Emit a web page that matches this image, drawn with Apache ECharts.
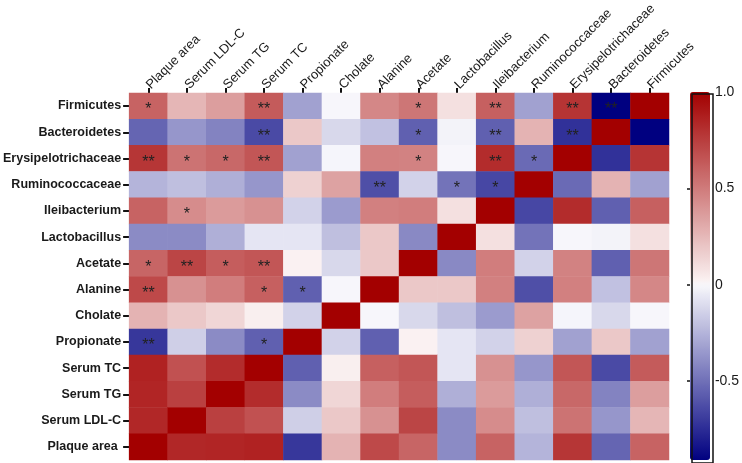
<!DOCTYPE html>
<html>
<head>
<meta charset="utf-8">
<script src="https://cdn.jsdelivr.net/npm/echarts@6/dist/echarts.min.js"></script>
<style>
html,body{margin:0;padding:0;background:#fff;}
#chart{width:742px;height:463px;}
</style>
</head>
<body>
<div id="chart"></div>
<script>
// Column variables (left to right)
const columns = ['Plaque area','Serum LDL-C','Serum TG','Serum TC','Propionate','Cholate','Alanine','Acetate','Lactobacillus','Ileibacterium','Ruminococcaceae','Erysipelotrichaceae','Bacteroidetes','Firmicutes'];
// Row variables (top to bottom)
const rows = ['Firmicutes','Bacteroidetes','Erysipelotrichaceae','Ruminococcaceae','Ileibacterium','Lactobacillus','Acetate','Alanine','Cholate','Propionate','Serum TC','Serum TG','Serum LDL-C','Plaque area '];

// Correlation values, one array per row (in column order)
const rFirmicutes          = [0.60, 0.26, 0.36, 0.63, -0.32, 0.00, 0.45, 0.52, 0.09, 0.61, -0.32, 0.79, -0.91, 1.00];
const rBacteroidetes       = [-0.54, -0.36, -0.43, -0.64, 0.19, -0.12, -0.20, -0.56, -0.02, -0.56, 0.27, -0.73, 1.00, -0.91];
const rErysipelotrichaceae = [0.78, 0.53, 0.58, 0.65, -0.32, -0.01, 0.48, 0.47, 0.00, 0.82, -0.52, 1.00, -0.73, 0.79];
const rRuminococcaceae     = [-0.25, -0.21, -0.27, -0.36, 0.15, 0.34, -0.62, -0.14, -0.49, -0.65, 1.00, -0.52, 0.27, -0.32];
const rIleibacterium       = [0.60, 0.43, 0.37, 0.41, -0.14, -0.34, 0.48, 0.49, 0.09, 1.00, -0.65, 0.82, -0.56, 0.61];
const rLactobacillus       = [-0.40, -0.40, -0.27, -0.07, -0.07, -0.21, 0.19, -0.41, 1.00, 0.09, -0.49, 0.00, -0.02, 0.09];
const rAcetate             = [0.59, 0.72, 0.62, 0.65, 0.02, -0.12, 0.19, 1.00, -0.41, 0.49, -0.14, 0.47, -0.56, 0.52];
const rAlanine             = [0.70, 0.41, 0.49, 0.61, -0.56, 0.00, 1.00, 0.19, 0.19, 0.48, -0.62, 0.48, -0.20, 0.45];
const rCholate             = [0.27, 0.19, 0.13, 0.03, -0.14, 1.00, 0.00, -0.12, -0.21, -0.34, 0.34, -0.01, -0.12, 0.00];
const rPropionate          = [-0.71, -0.15, -0.40, -0.56, 1.00, -0.14, -0.56, 0.02, -0.07, -0.14, 0.15, -0.32, 0.19, -0.32];
const rSerumTC             = [0.86, 0.67, 0.82, 1.00, -0.56, 0.03, 0.61, 0.65, -0.07, 0.41, -0.36, 0.65, -0.64, 0.63];
const rSerumTG             = [0.85, 0.74, 1.00, 0.82, -0.40, 0.13, 0.49, 0.62, -0.27, 0.37, -0.27, 0.58, -0.43, 0.36];
const rSerumLDLC           = [0.84, 1.00, 0.74, 0.67, -0.15, 0.19, 0.41, 0.72, -0.40, 0.43, -0.21, 0.53, -0.36, 0.26];
const rPlaqueArea          = [1.00, 0.84, 0.85, 0.86, -0.71, 0.27, 0.70, 0.59, -0.40, 0.60, -0.25, 0.78, -0.54, 0.60];

// Significance marks per row (in column order)
const sFirmicutes          = ['*','','','**','','','','*','','**','','**','**',''];
const sBacteroidetes       = ['','','','**','','','','*','','**','','**','',''];
const sErysipelotrichaceae = ['**','*','*','**','','','','*','','**','*','','',''];
const sRuminococcaceae     = ['','','','','','','**','','*','*','','','',''];
const sIleibacterium       = ['','*','','','','','','','','','','','',''];
const sLactobacillus       = ['','','','','','','','','','','','','',''];
const sAcetate             = ['*','**','*','**','','','','','','','','','',''];
const sAlanine             = ['**','','','*','*','','','','','','','','',''];
const sCholate             = ['','','','','','','','','','','','','',''];
const sPropionate          = ['**','','','*','','','','','','','','','',''];

// Colour bar range and ticks
const barMin = -0.91, barMax = 1.0;
const barTicks = [1.0, 0.5, 0, -0.5];

const matrix = [rFirmicutes, rBacteroidetes, rErysipelotrichaceae, rRuminococcaceae, rIleibacterium, rLactobacillus, rAcetate, rAlanine, rCholate, rPropionate, rSerumTC, rSerumTG, rSerumLDLC, rPlaqueArea];
const sigs = [sFirmicutes, sBacteroidetes, sErysipelotrichaceae, sRuminococcaceae, sIleibacterium, sLactobacillus, sAcetate, sAlanine, sCholate, sPropionate];

const data = [];
matrix.forEach((row, ri) => {
  row.forEach((v, ci) => {
    const mark = (sigs[ri] && sigs[ri][ci]) || '';
    data.push([ci, ri, v, mark]);
  });
});

// colour map: navy -> white -> dark red, white at 0
const NEG = [0, 0, 128], MIDN = [248, 248, 252], MIDP = [252, 246, 246], POS = [163, 0, 0];
function mix(a, b, t) { return a.map((x, i) => Math.round(x + (b[i] - x) * t)); }
function colorAt(v) {
  const c = v >= 0 ? mix(MIDP, POS, v / barMax) : mix(MIDN, NEG, v / barMin);
  return 'rgb(' + c.join(',') + ')';
}
const stops = [];
const N = 80;
for (let i = 0; i <= N; i++) stops.push(colorAt(barMin + (barMax - barMin) * i / N));

const chart = echarts.init(document.getElementById('chart'), null, {renderer: 'canvas'});
chart.setOption({
  animation: false,
  backgroundColor: '#fff',
  grid: [
    {left: 124, top: 91, width: 545, height: 369},
    {left: 690, top: 92, width: 20, height: 368}
  ],
  xAxis: [
    {
      type: 'category', data: columns, position: 'top', gridIndex: 0,
      axisLine: {show: false},
      axisTick: {show: true, alignWithLabel: true, length: 5, lineStyle: {color: '#111', width: 2}},
      axisLabel: {rotate: -45, margin: 6, color: '#1a1a1a', fontSize: 13, fontFamily: 'Liberation Sans, Arial, sans-serif'},
      splitLine: {show: false}
    },
    {type: 'value', gridIndex: 1, show: false, min: 0, max: 1}
  ],
  yAxis: [
    {
      type: 'category', data: rows, inverse: true, gridIndex: 0,
      axisLine: {show: false},
      axisTick: {show: true, alignWithLabel: true, length: 6, lineStyle: {color: '#111', width: 2}},
      axisLabel: {margin: 8, color: '#1a1a1a', fontSize: 12.5, fontWeight: 'bold', fontFamily: 'Liberation Sans, Arial, sans-serif'},
      splitLine: {show: false}
    },
    {
      type: 'value', gridIndex: 1, min: barMin, max: barMax, position: 'right',
      axisLine: {show: false},
      splitLine: {show: false},
      axisTick: {show: true, inside: true, length: 3, customValues: [0.5, 0, -0.5], lineStyle: {color: '#111', width: 1.5}},
      axisLabel: {
        customValues: barTicks, margin: 7, color: '#1a1a1a', fontSize: 14,
        fontFamily: 'Liberation Sans, Arial, sans-serif',
        formatter: v => (Math.abs(v - 1) < 1e-6 ? '1.0' : (Math.abs(v) < 1e-6 ? '0' : v.toFixed(1)))
      }
    },
    {
      type: 'value', gridIndex: 1, min: barMin, max: barMax, position: 'left',
      axisLine: {show: false},
      splitLine: {show: false},
      axisTick: {show: true, inside: true, length: 3, customValues: [0.5, 0, -0.5], lineStyle: {color: '#111', width: 1.5}},
      axisLabel: {show: false}
    }
  ],
  visualMap: {
    type: 'continuous', seriesIndex: 0, dimension: 2, min: barMin, max: barMax,
    orient: 'vertical', left: 690, top: 92, itemWidth: 20, itemHeight: 368,
    padding: 0, calculable: false, hoverLink: false, realtime: false,
    inRange: {color: stops}, text: null, z: 1
  },
  graphic: [
    {type: 'rect', left: 689.5, top: 91.5, z: 100, silent: true,
     shape: {width: 21, height: 369}, style: {fill: 'none', stroke: '#111', lineWidth: 1.5}}
  ],
  series: [{
    type: 'heatmap', xAxisIndex: 0, yAxisIndex: 0,
    data: data,
    itemStyle: {borderWidth: 0},
    label: {
      show: true,
      formatter: p => p.data[3],
      color: '#222', fontSize: 16, offset: [0, 4],
      fontFamily: 'Liberation Sans, Arial, sans-serif'
    },
    emphasis: {disabled: true}
  }]
});
</script>
</body>
</html>
